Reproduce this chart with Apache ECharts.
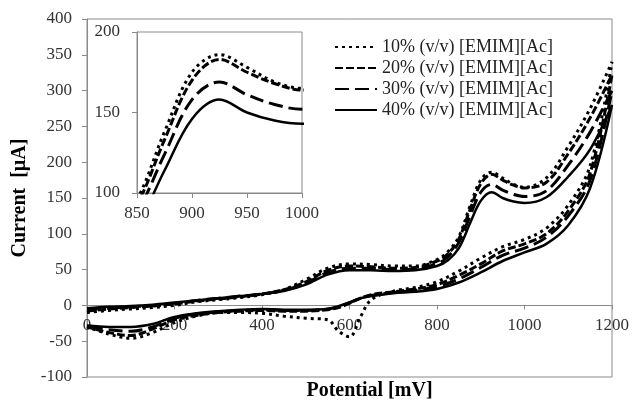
<!DOCTYPE html>
<html>
<head>
<meta charset="utf-8">
<script src="https://cdn.jsdelivr.net/npm/echarts@6/dist/echarts.min.js"></script>
<style>
  html, body { margin: 0; padding: 0; background: #fff; }
  #main { width: 632px; height: 403px; }
</style>
</head>
<body>
<div id="main"></div>
<script>
// potential (mV): forward scan then reverse scan
const fwdPotential = [0, 50, 100, 150, 200, 250, 300, 350, 400, 450, 500, 550, 600, 650, 700, 750, 800, 825, 850, 875, 900, 925, 950, 975, 1000, 1050, 1100, 1150, 1200]
const revPotential = [1150, 1100, 1050, 1000, 950, 900, 850, 800, 750, 700, 650, 625, 600, 575, 550, 500, 450, 400, 350, 300, 250, 200, 150, 100, 50, 0]

// current (µA), forward scan
const fwd10 = [-10, -7, -5, -3, 0, 5, 8, 11, 15, 22, 36, 52, 58, 57, 55, 55, 64, 75, 96, 138, 175, 186, 178, 169, 165, 178, 222, 275, 340]
const fwd20 = [-8, -5, -3, -1, 2, 6, 9, 12, 16, 22, 33, 49, 55, 54, 52, 53, 62, 72, 93, 133, 170, 183, 175, 168, 164, 172, 212, 262, 322]
const fwd30 = [-6, -4, -2, 0, 3, 7, 10, 13, 16, 21, 31, 46, 52, 52, 50, 51, 58, 68, 88, 124, 158, 169, 161, 155, 152, 160, 196, 242, 300]
const fwd40 = [-4, -2, -1, 1, 4, 7, 10, 13, 16, 20, 29, 43, 49, 49, 48, 49, 55, 63, 80, 114, 146, 158, 150, 145, 143, 151, 180, 218, 280]

// current (µA), reverse scan
const rev10 = [195, 140, 108, 92, 82, 66, 48, 33, 25, 20, 8, -16, -44, -36, -20, -18, -15, -11, -10, -10, -15, -24, -38, -46, -40, -30]
const rev20 = [185, 132, 100, 86, 76, 58, 42, 29, 23, 19, 15, 10, 3, -3, -6, -8, -8, -7, -8, -10, -14, -20, -33, -42, -38, -30]
const rev30 = [175, 125, 95, 80, 70, 53, 37, 26, 21, 18, 14, 10, 4, -2, -5, -7, -7, -6, -7, -9, -12, -18, -30, -36, -34, -29]
const rev40 = [164, 112, 86, 74, 62, 46, 32, 23, 19, 17, 13, 10, 4, -1, -5, -6, -6, -5, -6, -8, -11, -16, -26, -30, -30, -28]

const names = ['10% (v/v) [EMIM][Ac]', '20% (v/v) [EMIM][Ac]', '30% (v/v) [EMIM][Ac]', '40% (v/v) [EMIM][Ac]']
const fwdList = [fwd10, fwd20, fwd30, fwd40]
const revList = [rev10, rev20, rev30, rev40]

// line looks for each concentration
const lineLooks = [
    { type: [3, 4], width: 3 },
    { type: [8, 3], width: 3 },
    { type: [14, 6], width: 3 },
    { type: 'solid', width: 2.5 }
]

const font = 'Liberation Serif'
const grey = '#8a8a8a'

function loop(i) {
    const pts = fwdPotential.map((p, k) => [p, fwdList[i][k]])
    return pts.concat(revPotential.map((p, k) => [p, revList[i][k]]))
}

var myChart = echarts.init(document.getElementById('main'))

const series = []
names.forEach((name, i) => {
    const common = {
        name: name,
        type: 'line',
        data: loop(i),
        smooth: 0.35,
        symbol: 'none',
        itemStyle: { color: '#000' },
        lineStyle: { color: '#000', width: lineLooks[i].width, type: lineLooks[i].type }
    }
    // main plot
    series.push(Object.assign({ xAxisIndex: 0, yAxisIndex: 0, z: 3 }, common))
    // inset
    series.push(Object.assign({ xAxisIndex: 1, yAxisIndex: 1, clip: true, z: 6 }, common))
})

const labelStyle = { fontFamily: font, fontSize: 17, color: '#333', formatter: v => String(v) }

// main grid: 358px tall for 500 µA, so the zero line sits 100/500 of it above the bottom
const zeroOffset = -358 * 100 / 500

myChart.setOption({
    animation: false,
    backgroundColor: '#fff',
    legend: {
        data: names,
        orient: 'vertical',
        left: 329,
        top: 33,
        itemWidth: 42,
        itemHeight: 12,
        itemGap: 3,
        itemStyle: { opacity: 0 },
        textStyle: { fontFamily: font, fontSize: 18, color: '#222' }
    },
    grid: [
        { left: 87, right: 20, top: 19, bottom: 26, outerBoundsMode: 'none', containLabel: false, show: true, borderColor: grey, borderWidth: 1 },
        { left: 137, top: 32, width: 165, height: 161, outerBoundsMode: 'none', containLabel: false, show: true, backgroundColor: '#fff', borderColor: grey, borderWidth: 1, z: 5 }
    ],
    xAxis: [
        {
            type: 'value', gridIndex: 0, min: 0, max: 1200, interval: 200,
            position: 'bottom', offset: zeroOffset,
            name: 'Potential [mV]', nameLocation: 'middle', nameGap: 75,
            nameTextStyle: { fontFamily: font, fontSize: 20, fontWeight: 'bold', color: '#000', padding: [0, 0, 0, 40] },
            axisLine: { onZero: false, lineStyle: { color: grey } },
            axisTick: { show: true, length: 4, lineStyle: { color: grey } },
            axisLabel: Object.assign({ margin: 12, showMinLabel: true, showMaxLabel: true }, labelStyle),
            splitLine: { show: false }
        },
        {
            type: 'value', gridIndex: 1, min: 850, max: 1000, interval: 50,
            axisLine: { onZero: false, lineStyle: { color: grey } },
            axisTick: { show: true, length: 5, lineStyle: { color: grey } },
            axisLabel: Object.assign({ margin: 12, showMinLabel: true, showMaxLabel: true }, labelStyle),
            splitLine: { show: false },
            z: 6
        }
    ],
    yAxis: [
        {
            type: 'value', gridIndex: 0, min: -100, max: 400, interval: 50,
            name: 'Current  [\u00b5A]', nameLocation: 'middle', nameGap: 48,
            nameTextStyle: { fontFamily: font, fontSize: 20, fontWeight: 'bold', color: '#000' },
            axisLine: { show: true, onZero: false, lineStyle: { color: grey } },
            axisTick: { show: true, length: 5, lineStyle: { color: grey } },
            axisLabel: Object.assign({ margin: 15 }, labelStyle),
            splitLine: { show: false }
        },
        {
            type: 'value', gridIndex: 1, min: 100, max: 200, interval: 50,
            axisLine: { show: true, onZero: false, lineStyle: { color: grey } },
            axisTick: { show: true, length: 5, lineStyle: { color: grey } },
            axisLabel: Object.assign({ margin: 17 }, labelStyle),
            splitLine: { show: false },
            z: 6
        }
    ],
    series: series
})
</script>
</body>
</html>
